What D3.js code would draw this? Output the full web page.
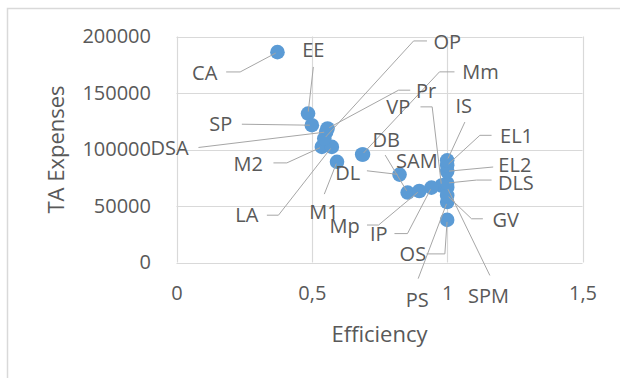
<!DOCTYPE html>
<html>
<head>
<meta charset="utf-8">
<script src="https://cdn.jsdelivr.net/npm/d3@7"></script>
<style>
  html, body { margin: 0; padding: 0; background: #fff; }
  svg { display: block; }
  text { font-family: "Open Sans", "Liberation Sans", sans-serif; fill: #595959; }
</style>
</head>
<body>
<svg id="chart" width="620" height="378"></svg>
<script>
// ---- data ----
const categories = ["CA","EE","SP","DSA","M2","LA","M1","OP","Pr","Mm","DB","VP","DL","SAM","Mp","IP","OS","PS","SPM","GV","DLS","EL2","EL1","IS"];
const efficiency = [0.373,0.486,0.500,0.553,0.537,0.574,0.593,0.546,0.558,0.686,0.689,0.979,0.824,0.854,0.897,0.942,1,1,1,1,1,1,1,1];
const taExpenses = [186150,131800,121500,115500,102300,102300,89100,109700,118600,95600,95600,68000,77800,61900,63250,66300,37700,53500,66400,59300,70300,80700,86000,90400];
const xTicks = [0, 0.5, 1, 1.5];
const xTickLabels = ["0", "0,5", "1", "1,5"];
const yTicks = [0, 50000, 100000, 150000, 200000];
const yTickLabels = ["0", "50000", "100000", "150000", "200000"];
const xTitle = "Efficiency";
const yTitle = "TA Expenses";

// ---- label layout (pixel offsets from each point) ----
const labelLayout = {
  CA:  {l:[-72.8, 20.3], p:[[-51.3, 19.8], [-37.3, 19.8]]},
  EE:  {l:[5.3, -63.3],  p:[[5.3, -46.6]]},
  SP:  {l:[-91, -1],     p:[[-70, -1]]},
  DSA: {l:[-156.5, 16.2],p:[[-127.7, 15.5]]},
  M2:  {l:[-73.7, 16.6], p:[[-48.4, 16], [-35, 16]]},
  LA:  {l:[-85, 68.3],   p:[[-65, 68.3], [-53.4, 68.3]]},
  M1:  {l:[-13, 49.6],   p:[[-12.7, 32.3]]},
  OP:  {l:[123, -96.6],  p:[[102.7, -97.6], [89.3, -97.6]]},
  Pr:  {l:[98.5, -37.5], p:[[82.7, -38.3], [71, -38.3]]},
  Mm:  {l:[118.3, -82.6],p:[[92.3, -82.6], [77.3, -82.6]]},
  DB:  {l:[23.3, -14.3], p:null},
  VP:  {l:[-43.2, -78.8],p:[[-21, -78.8], [-9.3, -78.8]]},
  DL:  {l:[-51.8, -1.5], p:[[-32.6, -3.8]]},
  SAM: {l:[9.2, -31.7],  p:[[-22.5, -37.5]]},
  Mp:  {l:[-74.7, 34.3], p:[[-52.3, 34], [-40.7, 34]]},
  IP:  {l:[-52.7, 45.8], p:[[-37, 46], [-24, 46]]},
  OS:  {l:[-34.3, 34],   p:[[-20.6, 34], [-2.3, 34]]},
  PS:  {l:[-30, 97.8],   p:[[-29, 76.6]]},
  SPM: {l:[41.4, 108],   p:[[42.7, 88]]},
  GV:  {l:[58.5, 24.2],  p:[[35.7, 23.3], [24.4, 23.3]]},
  DLS: {l:[68.7, -0.2],  p:[[44.4, -3], [29.4, -3]]},
  EL2: {l:[67.7, -6.3],  p:[[46, -4.3]]},
  EL1: {l:[69.4, -29.2], p:[[44.4, -30], [32.7, -30]]},
  IS:  {l:[16.5, -55],   p:[[17.7, -38.3]]}
};

const points = categories.map((c, i) => ({name: c, x: efficiency[i], y: taExpenses[i]}));

const svg = d3.select("#chart");
const plot = {left: 176.5, right: 582.5, top: 36.5, bottom: 262.5};

const x = d3.scaleLinear().domain([0, 1.5]).range([plot.left, plot.right]);
const y = d3.scaleLinear().domain([0, 200000]).range([plot.bottom, plot.top]);

// outer chart frame (only left/top visible)
svg.append("rect").attr("x", 7.5).attr("y", 8.5).attr("width", 700).attr("height", 500)
  .attr("fill", "none").attr("stroke", "#D9D9D9").attr("stroke-width", 1.5);

// gridlines
svg.append("g").selectAll("line").data(yTicks).join("line")
  .attr("x1", plot.left).attr("x2", plot.right)
  .attr("y1", d => Math.round(y(d)) + 0.5).attr("y2", d => Math.round(y(d)) + 0.5)
  .attr("stroke", "#D9D9D9").attr("stroke-width", 1.2);
svg.append("g").selectAll("line").data(xTicks).join("line")
  .attr("x1", d => Math.round(x(d)) + 0.5).attr("x2", d => Math.round(x(d)) + 0.5)
  .attr("y1", plot.top).attr("y2", plot.bottom)
  .attr("stroke", "#D9D9D9").attr("stroke-width", 1.2);

// axes (labels only)
const xAxis = d3.axisBottom(x).tickValues(xTicks).tickSize(0).tickPadding(23)
  .tickFormat((d, i) => xTickLabels[i]);
const gx = svg.append("g").attr("transform", `translate(0,${plot.bottom})`).call(xAxis);
const yAxis = d3.axisLeft(y).tickValues(yTicks).tickSize(0).tickPadding(25.5)
  .tickFormat((d, i) => yTickLabels[i]);
const gy = svg.append("g").attr("transform", `translate(${plot.left},0)`).call(yAxis);
[gx, gy].forEach(g => {
  g.select(".domain").remove();
  g.selectAll("text").attr("font-family", "Open Sans").attr("font-size", 20).attr("fill", "#595959");
});

// axis titles
svg.append("text").attr("x", (plot.left + plot.right) / 2).attr("y", 341.5)
  .attr("text-anchor", "middle").attr("font-size", 22).text(xTitle);
svg.append("text").attr("transform", `translate(64,${(plot.top + plot.bottom) / 2}) rotate(-90)`)
  .attr("text-anchor", "middle").attr("font-size", 22).text(yTitle);

// markers
svg.append("g").selectAll("circle").data(points).join("circle")
  .attr("cx", d => x(d.x)).attr("cy", d => y(d.y)).attr("r", 7.3)
  .attr("fill", "#5B9BD5");

// leader lines
const lineGen = d3.line();
svg.append("g").selectAll("path").data(points.filter(d => labelLayout[d.name].p)).join("path")
  .attr("d", d => {
    const px = x(d.x), py = y(d.y);
    const pts = labelLayout[d.name].p.map(o => [px + o[0], py + o[1]]);
    const last = pts[pts.length - 1];
    const dx = last[0] - px, dy = last[1] - py, len = Math.hypot(dx, dy);
    pts.push([px + dx / len * 2, py + dy / len * 2]);
    return lineGen(pts);
  })
  .attr("fill", "none").attr("stroke", "#A6A6A6").attr("stroke-width", 1);

// data labels
svg.append("g").selectAll("text").data(points).join("text")
  .attr("x", d => x(d.x) + labelLayout[d.name].l[0])
  .attr("y", d => y(d.y) + labelLayout[d.name].l[1])
  .attr("dy", "0.36em").attr("text-anchor", "middle")
  .attr("font-size", 20).attr("fill", "#404040")
  .text(d => d.name);
</script>
</body>
</html>
